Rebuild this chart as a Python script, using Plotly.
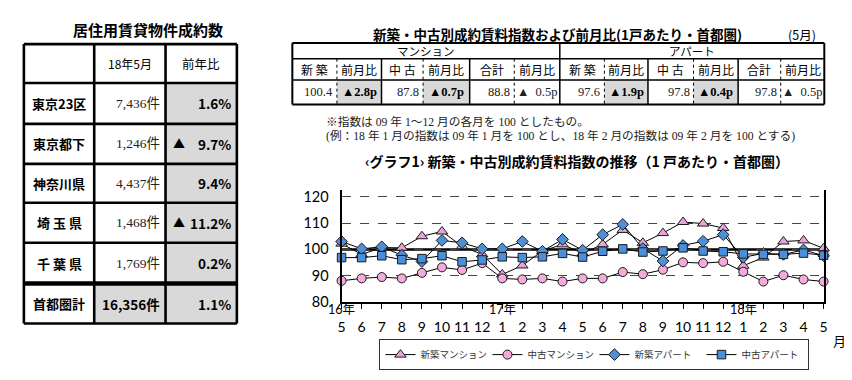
import plotly.graph_objects as go

W, H = 852, 380

# ---------------- data ----------------
region_names = ["東京23区", "東京都下", "神奈川県", "埼 玉 県", "千 葉 県"]
region_counts = [7436, 1246, 4437, 1468, 1769]
region_yoy = [1.6, -9.7, 9.4, -11.2, 0.2]
total_name = "首都圏計"
total_count = 16356
total_yoy = 1.1
left_title = "居住用賃貸物件成約数"
left_headers = ["18年5月", "前年比"]

index_title = "新築・中古別成約賃料指数および前月比(1戸あたり・首都圏)"
index_month = "(5月)"
index_groups = ["マンション", "アパート"]
index_cols = ["新 築", "前月比", "中 古", "前月比", "合計", "前月比"]
mansion_index = [100.4, 87.8, 88.8]
mansion_mom = [-2.8, -0.7, -0.5]
apart_index = [97.6, 97.8, 97.8]
apart_mom = [-1.9, -0.4, -0.5]

note_lines = [
    "※指数は 09 年 1～12 月の各月を 100 としたもの。",
    "(例：18 年 1 月の指数は 09 年 1 月を 100 とし、18 年 2 月の指数は 09 年 2 月を 100 とする)",
]
chart_title = "‹グラフ1› 新築・中古別成約賃料指数の推移（1 戸あたり・首都圏）"

months = ["2016-05", "2016-06", "2016-07", "2016-08", "2016-09", "2016-10", "2016-11", "2016-12",
          "2017-01", "2017-02", "2017-03", "2017-04", "2017-05", "2017-06", "2017-07", "2017-08",
          "2017-09", "2017-10", "2017-11", "2017-12", "2018-01", "2018-02", "2018-03", "2018-04",
          "2018-05"]
month_labels = ["5", "6", "7", "8", "9", "10", "11", "12", "1", "2", "3", "4", "5", "6", "7", "8",
                "9", "10", "11", "12", "1", "2", "3", "4", "5"]
year_labels = {"2016-05": "16年", "2017-01": "17年", "2018-01": "18年"}

series_names = ["新築マンション", "中古マンション", "新築アパート", "中古アパート"]
new_mansion = [102.2, 98.1, 100.7, 100.6, 105.0, 106.8, 101.2, 98.1, 90.5, 93.9, 99.4, 101.9,
               98.5, 101.9, 107.4, 102.5, 106.2, 110.4, 109.8, 108.1, 93.8, 96.9, 103.0, 103.4, 100.4]
used_mansion = [88.1, 89.0, 89.5, 89.0, 91.1, 93.2, 92.2, 94.8, 89.0, 88.6, 89.0, 87.8,
                89.0, 89.0, 91.4, 90.6, 92.3, 95.1, 94.8, 95.3, 91.5, 87.8, 90.2, 88.6, 87.8]
new_apart = [103.0, 100.2, 101.0, 97.8, 95.4, 103.4, 102.5, 100.2, 100.2, 103.0, 99.3, 103.8,
             99.7, 105.6, 109.5, 100.3, 95.6, 101.5, 103.1, 105.6, 97.0, 98.5, 98.1, 99.8, 97.6]
used_apart = [96.9, 96.9, 97.6, 96.1, 96.5, 97.6, 95.3, 96.0, 97.2, 96.9, 97.2, 98.5,
              97.1, 99.3, 100.2, 99.0, 99.4, 100.6, 99.4, 99.1, 98.3, 98.1, 98.1, 98.6, 97.8]
y_ticks = [80, 90, 100, 110, 120]

# ---------------- styles ----------------
GOTHIC = "Noto Sans CJK JP"
SERIF = "Liberation Serif, Noto Sans CJK JP"
AXISF = "Lato, Noto Sans CJK JP"
GRAY = "#d9d9d9"

def X(p):
    return p / W

def Y(p):
    return 1 - p / H

shapes = []
annos = []

def rect(x0, y0, x1, y1, fill):
    shapes.append(dict(type="rect", xref="paper", yref="paper", x0=X(x0), x1=X(x1), y0=Y(y1), y1=Y(y0),
                       fillcolor=fill, line=dict(width=0), layer="below"))

def line(x0, y0, x1, y1, w=1.0, dash="solid", color="black"):
    shapes.append(dict(type="line", xref="paper", yref="paper", x0=X(x0), x1=X(x1), y0=Y(y0), y1=Y(y1),
                       line=dict(color=color, width=w, dash=dash), layer="above"))

def text(x, y, s, size=12, family=GOTHIC, bold=False, anchor="center", color="black"):
    if bold:
        s = "<b>" + s + "</b>"
    annos.append(dict(xref="paper", yref="paper", x=X(x), y=Y(y), text=s, showarrow=False,
                      xanchor=anchor, yanchor="middle", font=dict(size=size, family=family, color=color)))

def tri(v):
    return "▲" if v < 0 else ""

# ---------------- left table ----------------
LX = [12, 83, 155, 227]
LY = [35, 75, 117, 158, 198, 239, 281, 322]
text(137, 20, left_title, size=15, bold=True)
rect(LX[2], LY[1], LX[3], LY[7], GRAY)
rect(LX[1], LY[6], LX[2], LY[7], GRAY)
for i, yv in enumerate(LY):
    line(LX[0], yv, LX[3], yv, w=4.5 if i == 6 else 2.6)
for xv in LX:
    line(xv, LY[0], xv, LY[7], w=2.6)
text((LX[1] + LX[2]) / 2, (LY[0] + LY[1]) / 2, left_headers[0], size=12)
text((LX[2] + LX[3]) / 2, (LY[0] + LY[1]) / 2, left_headers[1], size=12.5)
for i, name in enumerate(region_names):
    cy = (LY[i + 1] + LY[i + 2]) / 2
    text((LX[0] + LX[1]) / 2, cy, name, size=13, bold=True)
    text(LX[2] - 4, cy, f"{region_counts[i]:,}件", size=13.5, family=SERIF, anchor="right", color="#222")
    if region_yoy[i] < 0:
        text(LX[2] + 14, cy, "▲", size=12, bold=True)
    text(LX[3] - 4, cy, f"{abs(region_yoy[i]):.1f}%", size=13.5, bold=True, anchor="right")
cy = (LY[6] + LY[7]) / 2
text((LX[0] + LX[1]) / 2, cy, total_name, size=13, bold=True)
text(LX[2] - 4, cy, f"{total_count:,}件", size=13.5, bold=True, anchor="right")
text(LX[3] - 4, cy, f"{abs(total_yoy):.1f}%", size=13.5, bold=True, anchor="right")

# ---------------- top-right table ----------------
TX = [283, 328, 373, 415, 462, 507, 553, 598, 642, 688, 733, 776, 820]
TY = [34, 50, 72, 97]
text(551, 25, index_title, size=13.5, bold=True)
text(797, 25, index_month, size=12.5)
for g in range(2):
    for k in (0, 1):
        c = g * 6 + k * 2 + 1
        rect(TX[c], TY[2], TX[c + 1], TY[3], GRAY)
line(TX[0], TY[0], TX[12], TY[0], w=2)
line(TX[0], TY[3], TX[12], TY[3], w=2)
line(TX[0], TY[1], TX[12], TY[1], w=1.5)
line(TX[0], TY[2], TX[12], TY[2], w=1.5)
line(TX[0], TY[0], TX[0], TY[3], w=2)
line(TX[12], TY[0], TX[12], TY[3], w=2)
line(TX[6], TY[0], TX[6], TY[3], w=1.5)
for c in range(1, 12):
    if c == 6:
        continue
    if c % 2 == 1:
        line(TX[c], TY[1], TX[c], TY[3], w=1, dash="dot")
    else:
        line(TX[c], TY[1], TX[c], TY[3], w=1.5)
for g, gname in enumerate(index_groups):
    text((TX[g * 6] + TX[g * 6 + 6]) / 2, (TY[0] + TY[1]) / 2, gname, size=11.5)
    vals = mansion_index if g == 0 else apart_index
    moms = mansion_mom if g == 0 else apart_mom
    for c, cname in enumerate(index_cols):
        ci = g * 6 + c
        text((TX[ci] + TX[ci + 1]) / 2, (TY[1] + TY[2]) / 2, cname, size=12)
    for k in range(3):
        ci = g * 6 + k * 2
        cy = (TY[2] + TY[3]) / 2
        text(TX[ci + 1] - 2, cy, f"{vals[k]:.1f}", size=12.5, family=SERIF, anchor="right", color="#222")
        if k < 2:
            text((TX[ci + 1] + TX[ci + 2]) / 2, cy, f"{tri(moms[k])}{abs(moms[k]):.1f}p", size=12.5, bold=True,
                 family="Liberation Serif, Noto Sans CJK JP")
        else:
            text((TX[ci + 1] + TX[ci + 2]) / 2, cy, f"{tri(moms[k])}  {abs(moms[k]):.1f}p", size=12.5,
                 family=SERIF, color="#222")

# ---------------- notes & chart title ----------------
text(315, 115, note_lines[0], size=11.7, family=SERIF, anchor="left", color="#222")
text(315, 129, note_lines[1], size=11.7, family=SERIF, anchor="left", color="#222")
text(570, 155, chart_title, size=14, bold=True)

# ---------------- line chart ----------------
fig = go.Figure()
styles = [
    dict(symbol="triangle-up", size=10, color="#e8a3da"),
    dict(symbol="circle", size=9, color="#f3abdc"),
    dict(symbol="diamond", size=9, color="#4f8fd3"),
    dict(symbol="square", size=8.5, color="#4a8fdb"),
]
for name, vals, st in zip(series_names, [new_mansion, used_mansion, new_apart, used_apart], styles):
    fig.add_trace(go.Scatter(
        x=months, y=vals, name=name, mode="lines+markers", cliponaxis=False,
        line=dict(color="black", width=1),
        marker=dict(symbol=st["symbol"], size=st["size"], color=st["color"],
                    line=dict(color="#1a1a1a", width=1)),
    ))

shapes.append(dict(type="line", xref="x domain", yref="y", x0=0, x1=1, y0=100, y1=100,
                   line=dict(color="black", width=2.5), layer="below"))

for m, lab in year_labels.items():
    annos.append(dict(xref="x", yref="paper", x=m, y=Y(308), text=lab, showarrow=False,
                      xanchor="center", yanchor="middle", borderpad=0,
                      font=dict(size=12.5, family=AXISF, color="black")))
text(835, 339, "月", size=13, family=GOTHIC)

fig.update_layout(
    width=W, height=H, margin=dict(l=0, r=0, t=0, b=0),
    paper_bgcolor="white", plot_bgcolor="white",
    shapes=shapes, annotations=annos,
    xaxis=dict(domain=[X(332.7), X(819.3)], type="category", range=[0, 24],
               tickvals=months, ticktext=month_labels, ticks="outside", ticklen=5, tickwidth=1,
               tickcolor="black", showline=True, linecolor="black", linewidth=2, showgrid=False,
               tickfont=dict(size=14, family=AXISF, color="black"), ticklabelstandoff=6,
               fixedrange=True),
    yaxis=dict(domain=[Y(300), Y(185)], range=[80, 122.5], tickvals=y_ticks,
               showgrid=True, griddash="dash", gridcolor="#444", gridwidth=1,
               showline=True, mirror=True, linecolor="black", linewidth=2, zeroline=False,
               ticks="", tickfont=dict(size=14.5, family=AXISF, color="black"), ticklabelstandoff=8),
    showlegend=True,
    legend=dict(orientation="h", x=X(588), xanchor="center", y=Y(338), yanchor="top",
                bordercolor="#333", borderwidth=1, bgcolor="white",
                font=dict(size=9.5, family=SERIF, color="#333"), itemwidth=30,
                entrywidth=62, entrywidthmode="pixels", tracegroupgap=0),
)

fig.write_html("out.html")
